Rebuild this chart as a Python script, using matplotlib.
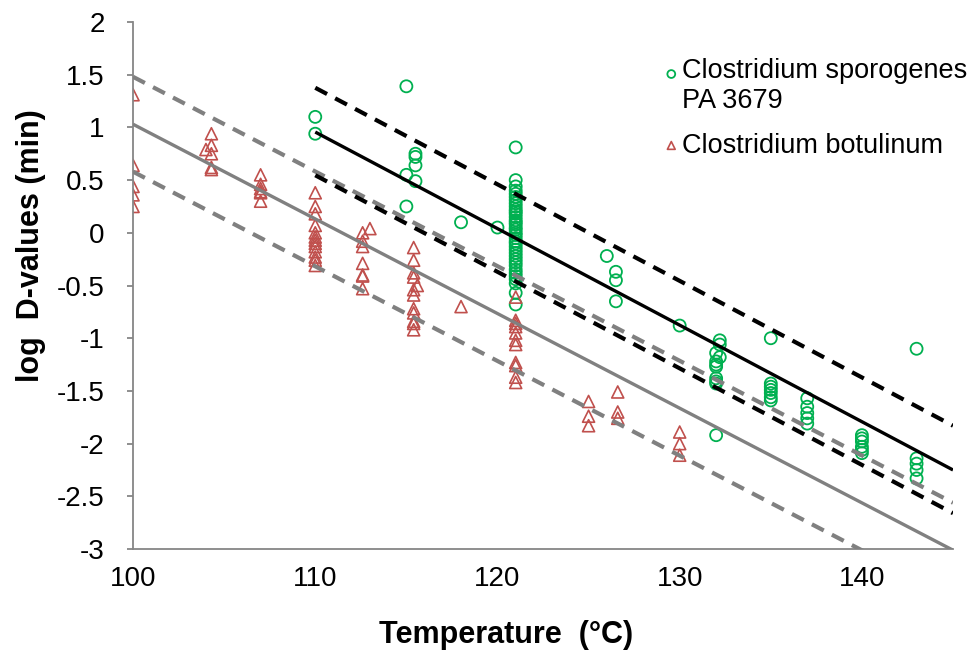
import numpy as np
import matplotlib
matplotlib.use("Agg")
import matplotlib.pyplot as plt

plt.rcParams['font.family'] = ['Liberation Sans', 'DejaVu Sans']

# C. sporogenes PA 3679 (green circles)
spo_temp = [110, 110, 115, 115, 115, 115.5, 115.5, 115.5, 115.5, 118, 120,
            121, 121, 121, 121, 121, 121, 121, 121, 121, 121, 121, 121, 121,
            121, 121, 121, 121, 121, 121, 121, 121, 121, 121, 121, 121, 121,
            121, 121, 121, 121, 121, 121, 121, 121, 121, 121, 121,
            126, 126.5, 126.5, 126.5, 130,
            132, 132, 132, 132, 132, 132, 132, 132, 132.2, 132.2, 132.2,
            135, 135, 135, 135, 135, 135, 135,
            137, 137, 137, 137, 137,
            140, 140, 140, 140, 140, 140,
            143, 143, 143, 143, 143]
spo_logd = [1.10, 0.94, 1.39, 0.55, 0.25, 0.75, 0.72, 0.64, 0.49, 0.10, 0.05,
            0.81, 0.50, 0.44, 0.40, 0.37, 0.34, 0.31, 0.28, 0.25, 0.22, 0.20, 0.18, 0.15,
            0.12, 0.10, 0.08, 0.05, 0.03, 0.00, -0.02, -0.05, -0.08, -0.10, -0.13, -0.16, -0.19,
            -0.22, -0.25, -0.28, -0.31, -0.35, -0.38, -0.41, -0.44, -0.48, -0.57, -0.68,
            -0.22, -0.37, -0.45, -0.65, -0.88,
            -1.14, -1.22, -1.25, -1.27, -1.38, -1.41, -1.43, -1.92, -1.02, -1.06, -1.18,
            -1.00, -1.43, -1.46, -1.49, -1.52, -1.56, -1.59,
            -1.57, -1.65, -1.71, -1.76, -1.81,
            -1.92, -1.95, -1.98, -2.03, -2.06, -2.09,
            -1.10, -2.14, -2.19, -2.25, -2.33]

# C. botulinum (red triangles)
bot_temp = [100, 100, 100, 100, 100,
            104, 104.3, 104.3, 104.3, 104.3, 104.3,
            107, 107, 107, 107, 107, 107,
            110, 110, 110, 110, 110, 110, 110, 110, 110, 110, 110, 110, 110,
            112.6, 112.6, 112.6, 112.6, 112.6, 112.6, 112.6, 113,
            115.4, 115.4, 115.4, 115.4, 115.4, 115.4, 115.4, 115.4, 115.4, 115.4, 115.4, 115.6,
            118,
            121, 121, 121, 121, 121, 121, 121, 121, 121, 121, 121,
            125, 125, 125, 126.6, 126.6, 126.6, 130, 130, 130]
bot_logd = [1.31, 0.64, 0.44, 0.36, 0.25,
            0.79, 0.94, 0.83, 0.75, 0.62, 0.60,
            0.55, 0.46, 0.42, 0.39, 0.38, 0.30,
            0.38, 0.25, 0.18, 0.07, 0.00, -0.04, -0.07, -0.10, -0.13, -0.18, -0.23, -0.26, -0.31,
            0.00, -0.08, -0.13, -0.29, -0.40, -0.41, -0.53, 0.04,
            -0.14, -0.26, -0.38, -0.42, -0.54, -0.59, -0.72, -0.76, -0.84, -0.86, -0.92, -0.50,
            -0.70,
            -0.61, -0.83, -0.86, -0.89, -0.95, -1.02, -1.06, -1.23, -1.26, -1.37, -1.42,
            -1.60, -1.74, -1.83, -1.51, -1.70, -1.76, -1.89, -2.00, -2.11]

# regression lines: (start temp, log D at start, slope), band offsets
spo_fit = (110, 0.956, -0.0916)
spo_band = (0.42, -0.41)
bot_fit = (100, 1.03, -0.0898)
bot_band = (0.45, -0.45)

xticks = [100, 110, 120, 130, 140]
yticks = [2, 1.5, 1, 0.5, 0, -0.5, -1, -1.5, -2, -2.5, -3]

green = '#00B050'
red = '#C0504D'
gray = '#808080'

fig = plt.figure(figsize=(9.69, 6.55), dpi=100)
ax = fig.add_axes([0.1373, 0.1618, 0.8462, 0.8046])

ax.scatter(spo_temp, spo_logd, s=75, marker='o', facecolors='none',
           edgecolors=green, linewidths=1.3, zorder=2,
           label='Clostridium sporogenes\nPA 3679')
ax.scatter(bot_temp, bot_logd, s=75, marker='^', facecolors='none',
           edgecolors=red, linewidths=1.2, zorder=2,
           label='Clostridium botulinum')

# fitted lines
t = np.array([bot_fit[0], 145])
yb = bot_fit[1] + bot_fit[2] * (t - bot_fit[0])
ax.plot(t, yb, color=gray, lw=2.4, zorder=3, solid_capstyle='butt')
for off in bot_band:
    ax.plot(t, yb + off, color=gray, lw=3, ls=(0, (3.2, 2.2)), zorder=3)

t = np.array([spo_fit[0], 145])
ys = spo_fit[1] + spo_fit[2] * (t - spo_fit[0])
ax.plot(t, ys, color='black', lw=2.4, zorder=3, solid_capstyle='butt')
for off in spo_band:
    ax.plot(t, ys + off, color='black', lw=3, ls=(0, (3.2, 2.2)), zorder=3)

ax.set_xlim(100, 145)
ax.set_ylim(-3, 2)
ax.set_xticks(xticks)
ax.set_yticks(yticks)
ax.set_yticklabels([f'{v:g}' for v in yticks])
ax.tick_params(axis='x', length=0, labelsize=20, pad=12)
ax.tick_params(axis='y', length=4.5, width=1.3, color='#868686', labelsize=20, pad=16)

for side in ['top', 'right']:
    ax.spines[side].set_visible(False)
for side in ['left', 'bottom']:
    ax.spines[side].set_color('#868686')
    ax.spines[side].set_linewidth(1.3)

ax.set_xlabel('Temperature  (°C)', fontsize=22, fontweight='bold')
ax.xaxis.set_label_coords(0.455, -0.135)
ax.set_ylabel('log  D-values (min)', fontsize=22, fontweight='bold')
ax.yaxis.set_label_coords(-0.106, 0.575)

leg = ax.legend(loc='upper left', bbox_to_anchor=(0.630, 0.952), frameon=False,
                fontsize=19.5, markerscale=0.65, handletextpad=0.0,
                handlelength=0.8, labelspacing=0.68, borderaxespad=0)
# put the circle next to the first line of the two-line label
h = leg.legend_handles[0]
h.set_offsets(h.get_offsets() + np.array([0, 10.8]))

fig.savefig('out.png', dpi=100)
